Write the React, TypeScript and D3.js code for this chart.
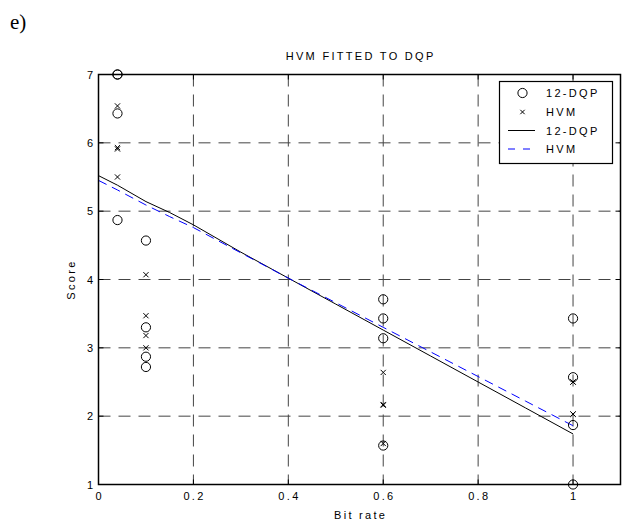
import React from "react";
import * as d3 from "d3";

const bitRates = [0.04, 0.1, 0.6, 1];
const dqpScores = [
  [7.0, 7.0, 6.43, 4.87],
  [4.57, 3.3, 2.87, 2.72],
  [3.71, 3.43, 3.14, 1.57],
  [3.43, 2.57, 1.87, 1.0],
];
const hvmScores = [
  [6.54, 5.93, 5.91, 5.5],
  [4.07, 3.47, 3.18, 3.0],
  [2.64, 2.17, 2.16, 1.6],
  [2.5, 2.5, 2.03, 2.03],
];
const fitX = [0, 0.04, 0.1, 0.15, 0.2, 0.3, 0.4, 0.5, 0.6, 0.7, 0.8, 0.9, 1];
const dqpFit = [5.52, 5.38, 5.14, 4.98, 4.8, 4.4, 4.02, 3.64, 3.26, 2.88, 2.5, 2.12, 1.74];
const hvmFit = [5.45, 5.31, 5.09, 4.92, 4.76, 4.39, 4.02, 3.66, 3.3, 2.94, 2.58, 2.22, 1.86];
const xTicks = [0, 0.2, 0.4, 0.6, 0.8, 1];
const xTickLabels = ["0", "0.2", "0.4", "0.6", "0.8", "1"];
const yTicks = [1, 2, 3, 4, 5, 6, 7];
const legendLabels = ["12-DQP", "HVM", "12-DQP", "HVM"];

const W = 623;
const H = 524;
const L = 98.5, R = 620.5, T = 74.5, B = 484.5;
const FONT = "'Liberation Sans', Arial, Helvetica, sans-serif";
const LS = 2.3;

export default function App() {
  const x = d3.scaleLinear().domain([0, 1.1]).range([L, R]);
  const y = d3.scaleLinear().domain([1, 7]).range([B, T]);
  const line = d3
    .line<number>()
    .x((_, i) => x(fitX[i]))
    .y((d) => y(d));

  const cross = (cx: number, cy: number, s: number, key: string) => (
    <path
      key={key}
      d={`M${cx - s},${cy - s}L${cx + s},${cy + s}M${cx - s},${cy + s}L${cx + s},${cy - s}`}
      stroke="#000"
      strokeWidth={1}
      fill="none"
    />
  );

  const lx = 499.5, ly = 81.5, lw = 113, lh = 82;
  const rows = [93, 112, 130.5, 149];

  return (
    <svg
      width={W}
      height={H}
      style={{ position: "absolute", left: 0, top: 0, background: "#fff" }}
      fontFamily={FONT}
    >
      <rect x={0} y={0} width={W} height={H} fill="#fff" />
      <text x={10} y={29} fontFamily="'Liberation Serif', 'Times New Roman', serif" fontSize={21}>
        e)
      </text>
      {/* grid */}
      {xTicks.filter((t) => t > 0).map((t) => (
        <line key={"gx" + t} x1={x(t)} x2={x(t)} y1={T} y2={B} stroke="#444" strokeWidth={1} strokeDasharray="12,8" />
      ))}
      {yTicks.filter((t) => t > 1 && t < 7).map((t) => (
        <line key={"gy" + t} x1={L} x2={R} y1={y(t)} y2={y(t)} stroke="#444" strokeWidth={1} strokeDasharray="12,8" />
      ))}
      {/* ticks */}
      {xTicks.map((t) => (
        <g key={"tx" + t}>
          <line x1={x(t)} x2={x(t)} y1={B} y2={B - 5} stroke="#000" />
          <line x1={x(t)} x2={x(t)} y1={T} y2={T + 5} stroke="#000" />
        </g>
      ))}
      {yTicks.map((t) => (
        <g key={"ty" + t}>
          <line x1={L} x2={L + 5} y1={y(t)} y2={y(t)} stroke="#000" />
          <line x1={R} x2={R - 5} y1={y(t)} y2={y(t)} stroke="#000" />
        </g>
      ))}
      {/* fit lines */}
      <path d={line(dqpFit) || ""} fill="none" stroke="#000" strokeWidth={1} />
      <path d={line(hvmFit) || ""} fill="none" stroke="#0000ff" strokeWidth={1} strokeDasharray="9,6" />
      {/* points */}
      {bitRates.map((b, i) =>
        dqpScores[i].map((v, j) => (
          <circle key={`c${i}-${j}`} cx={x(b)} cy={y(v)} r={4.6} fill="none" stroke="#000" strokeWidth={1} />
        ))
      )}
      {bitRates.map((b, i) => hvmScores[i].map((v, j) => cross(x(b), y(v), 2.6, `x${i}-${j}`)))}
      {/* box */}
      <rect x={L} y={T} width={R - L} height={B - T} fill="none" stroke="#000" strokeWidth={1.5} />
      {/* tick labels */}
      {xTicks.map((t, i) => (
        <text key={"lx" + t} x={x(t) + LS / 2} y={500} fontSize={11} textAnchor="middle" letterSpacing={LS}>
          {xTickLabels[i]}
        </text>
      ))}
      {yTicks.map((t) => (
        <text key={"ly" + t} x={93} y={y(t) + 4} fontSize={11} textAnchor="end">
          {t}
        </text>
      ))}
      <text x={(L + R) / 2 + LS / 2} y={519} fontSize={11} textAnchor="middle" letterSpacing={LS}>
        Bit rate
      </text>
      <text
        transform={`translate(74.5,${(T + B) / 2}) rotate(-90)`}
        fontSize={11}
        textAnchor="middle"
        letterSpacing={LS}
      >
        Score
      </text>
      <text x={(L + R) / 2 + LS / 2} y={59.5} fontSize={11} textAnchor="middle" letterSpacing={LS}>
        HVM FITTED TO DQP
      </text>
      {/* legend */}
      <rect x={lx} y={ly} width={lw} height={lh} fill="#fff" stroke="#000" strokeWidth={1.2} />
      <circle cx={522.5} cy={rows[0]} r={4.6} fill="none" stroke="#000" />
      {cross(522.5, rows[1], 2.2, "lgx")}
      <line x1={508} x2={535} y1={rows[2]} y2={rows[2]} stroke="#000" />
      <line x1={508} x2={535} y1={rows[3]} y2={rows[3]} stroke="#0000ff" strokeDasharray="7,8" />
      {legendLabels.map((s, i) => (
        <text key={"lg" + i} x={546} y={rows[i] + 4} fontSize={11} letterSpacing={LS}>
          {s}
        </text>
      ))}
    </svg>
  );
}
